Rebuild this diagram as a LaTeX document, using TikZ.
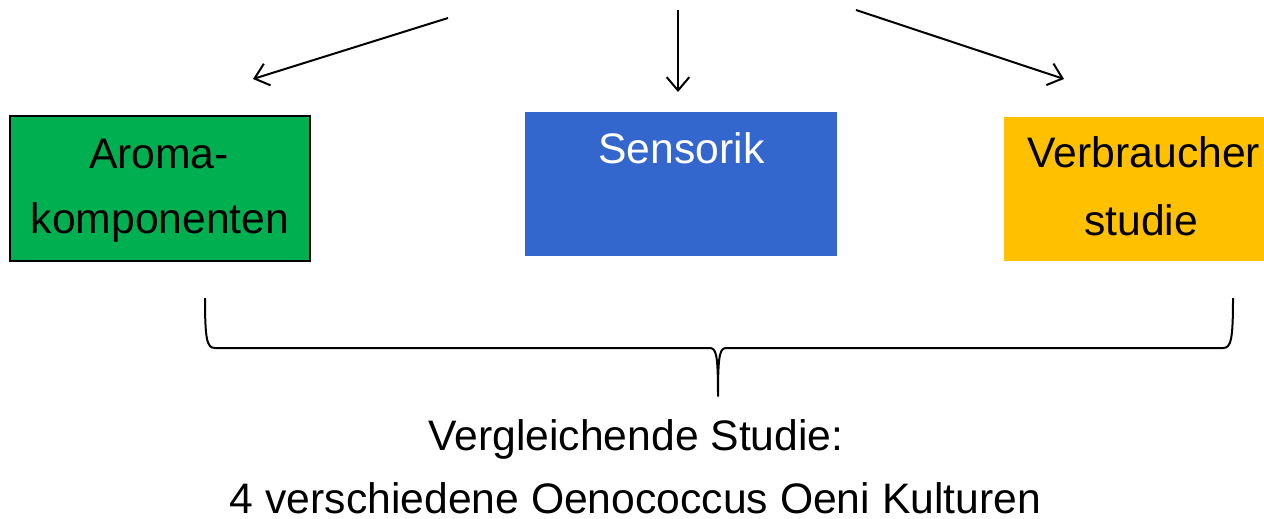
\documentclass[tikz,border=0pt]{standalone}
\usepackage{fontspec}
\setmainfont{Liberation Sans}
\usetikzlibrary{arrows.meta}
\definecolor{boxgreen}{HTML}{00B050}
\definecolor{boxblue}{HTML}{3467CD}
\definecolor{boxorange}{HTML}{FFC000}
\tikzset{
  px/.style={x=0.75pt,y=-0.75pt},
  box/.style={rectangle,inner sep=0pt,outer sep=0pt},
  lbl/.style={anchor=base,inner sep=0pt,font=\fontsize{32}{36}\selectfont},
  arr/.style={line width=1.5pt,-{Straight Barb[length=10pt,width=17pt,line width=1.5pt]}},
  bracepath/.style={line width=1.5pt,line join=round}
}
\begin{document}
\begin{tikzpicture}[px]
\useasboundingbox (0,0) rectangle (1264,518);
% boxes
\node[box,fill=boxgreen,draw=black,line width=0.9pt,minimum width=300*0.75pt,minimum height=145*0.75pt] (aroma) at (160,188.5) {};
\node[box,fill=boxblue,minimum width=312*0.75pt,minimum height=144*0.75pt] (sens) at (681,184) {};
\node[box,fill=boxorange,minimum width=260*0.75pt,minimum height=144*0.75pt] (verb) at (1134,189) {};
% box texts
\node[lbl] (t1) at (159,168) {Aroma-};
\node[lbl] (t2) at (160,233) {komponenten};
\node[lbl,text=white] (t3) at (681.5,163) {Sensorik};
\node[lbl] (t4) at (1144,167) {Verbraucher};
\node[lbl] (t5) at (1141,235) {studie};
% arrows
\coordinate (a1s) at (448,18);
\coordinate (a1e) at (253,79);
\coordinate (a2s) at (678,10);
\coordinate (a2e) at (678,92);
\coordinate (a3s) at (856,10);
\coordinate (a3e) at (1064,79);
\draw[arr] (a1s) -- (a1e);
\draw[arr] (a2s) -- (a2e);
\draw[arr] (a3s) -- (a3e);
% brace
\coordinate (bl) at (205,298);
\coordinate (bt) at (718,396);
\coordinate (br) at (1233,298);
\draw[bracepath] (bl) .. controls (205,340) and (207,348) .. (215,348) -- (709,348)
  .. controls (716,348) and (718,352) .. (bt)
  .. controls (718,352) and (720,348) .. (727,348) -- (1223,348)
  .. controls (1231,348) and (1233,340) .. (br);
% bottom texts
\node[lbl] (c1) at (636,450) {Vergleichende Studie:};
\node[lbl] (c2) at (635.5,513.5) {4 verschiedene Oenococcus Oeni Kulturen};
\end{tikzpicture}
\end{document}
